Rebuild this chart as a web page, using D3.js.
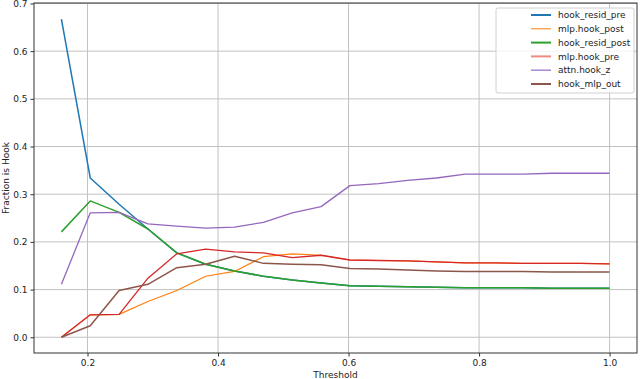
<!DOCTYPE html>
<html>
<head>
<meta charset="utf-8">
<script src="https://cdn.jsdelivr.net/npm/d3@7"></script>
<style>
  body { margin: 0; background: #fff; }
  text { font-family: "DejaVu Sans", sans-serif; fill: #222; }
</style>
</head>
<body>
<div id="chart"></div>
<script>
// thresholds on the x axis
let thresholds = [0.16, 0.2042, 0.2484, 0.2926, 0.3368, 0.3811, 0.4253, 0.4695, 0.5137, 0.5579,
                  0.6021, 0.6463, 0.6905, 0.7347, 0.7789, 0.8232, 0.8674, 0.9116, 0.9558, 1.0];

let hookResidPre  = [0.667, 0.334, 0.279, 0.227, 0.177, 0.153, 0.139, 0.128, 0.120, 0.114,
                     0.108, 0.107, 0.106, 0.105, 0.104, 0.104, 0.104, 0.103, 0.103, 0.103];
let mlpHookPost   = [0.0, 0.047, 0.048, 0.075, 0.098, 0.128, 0.138, 0.169, 0.175, 0.172,
                     0.162, 0.161, 0.160, 0.158, 0.156, 0.156, 0.155, 0.155, 0.155, 0.154];
let hookResidPost = [0.221, 0.286, 0.262, 0.227, 0.177, 0.153, 0.139, 0.128, 0.120, 0.114,
                     0.108, 0.107, 0.106, 0.105, 0.104, 0.104, 0.104, 0.103, 0.103, 0.103];
let mlpHookPre    = [0.0, 0.047, 0.048, 0.124, 0.175, 0.185, 0.179, 0.177, 0.167, 0.172,
                     0.162, 0.161, 0.160, 0.158, 0.156, 0.156, 0.155, 0.155, 0.155, 0.154];
let attnHookZ     = [0.111, 0.261, 0.262, 0.238, 0.233, 0.229, 0.231, 0.241, 0.261, 0.274,
                     0.318, 0.322, 0.329, 0.334, 0.342, 0.342, 0.342, 0.344, 0.344, 0.344];
let hookMlpOut    = [0.0, 0.024, 0.098, 0.111, 0.146, 0.153, 0.170, 0.155, 0.153, 0.152,
                     0.144, 0.143, 0.141, 0.139, 0.138, 0.138, 0.138, 0.137, 0.137, 0.137];

let seriesNames = ["hook_resid_pre", "mlp.hook_post", "hook_resid_post", "mlp.hook_pre", "attn.hook_z", "hook_mlp_out"];
let seriesValues = [hookResidPre, mlpHookPost, hookResidPost, mlpHookPre, attnHookZ, hookMlpOut];
let colors = ["#1f77b4", "#ff7f0e", "#2ca02c", "#d62728", "#9467bd", "#8c564b"];
let widths = [1.5, 1.2, 1.5, 1.3, 1.3, 1.5];
let legendColors = ["#1f77b4", "#ff7f0e", "#2ca02c", "#ee8a80", "#a98bd0", "#8c564b"];
let legendWidths = [2, 1, 2, 2, 1.5, 2];

let xTicks = [0.2, 0.4, 0.6, 0.8, 1.0];
let yTicks = [0.0, 0.1, 0.2, 0.3, 0.4, 0.5, 0.6, 0.7];

let W = 640, H = 379;
let margin = {top: 3, right: 3, bottom: 26, left: 34};

let svg = d3.select("#chart")
  .append("svg")
    .attr("width", W)
    .attr("height", H);

let x = d3.scaleLinear()
  .domain([0.118, 1.042])
  .range([margin.left, W - margin.right]);

let y = d3.scaleLinear()
  .domain([-0.033, 0.701])
  .range([H - margin.bottom, margin.top]);

// grid
svg.append("g")
  .selectAll("line.gx")
  .data(xTicks)
  .join("line")
    .attr("x1", d => x(d)).attr("x2", d => x(d))
    .attr("y1", margin.top).attr("y2", H - margin.bottom)
    .attr("stroke", "#c2c2c2").attr("stroke-width", 1);

svg.append("g")
  .selectAll("line.gy")
  .data(yTicks)
  .join("line")
    .attr("x1", margin.left).attr("x2", W - margin.right)
    .attr("y1", d => y(d)).attr("y2", d => y(d))
    .attr("stroke", "#c2c2c2").attr("stroke-width", 1);

// lines
let line = d3.line()
  .x((d, i) => x(thresholds[i]))
  .y(d => y(d));

seriesValues.forEach(function(vals, k) {
  svg.append("path")
    .datum(vals)
    .attr("fill", "none")
    .attr("stroke", colors[k])
    .attr("stroke-width", widths[k])
    .attr("stroke-linejoin", "round")
    .attr("d", line);
});

// axes
let xAxis = svg.append("g")
  .attr("transform", "translate(0," + (H - margin.bottom) + ")")
  .call(d3.axisBottom(x).tickValues(xTicks).tickFormat(d3.format(".1f")).tickSizeOuter(0).tickSize(3.5).tickPadding(3));

let yAxis = svg.append("g")
  .attr("transform", "translate(" + margin.left + ",0)")
  .call(d3.axisLeft(y).tickValues(yTicks).tickFormat(d3.format(".1f")).tickSizeOuter(0).tickSize(3.5).tickPadding(3));

[xAxis, yAxis].forEach(function(a) {
  a.select(".domain").remove();
  a.selectAll("text").style("font-size", "9px").style("font-family", "DejaVu Sans, sans-serif").attr("fill", "#222");
  a.selectAll("line").attr("stroke", "#333");
});

// frame
svg.append("rect")
  .attr("x", margin.left).attr("y", margin.top)
  .attr("width", W - margin.left - margin.right)
  .attr("height", H - margin.top - margin.bottom)
  .attr("fill", "none")
  .attr("stroke", "#333")
  .attr("stroke-width", 1);

// axis titles
svg.append("text")
  .attr("x", (margin.left + W - margin.right) / 2)
  .attr("y", H - 1.5)
  .attr("text-anchor", "middle")
  .style("font-size", "9px")
  .text("Threshold");

svg.append("text")
  .attr("transform", "translate(9," + ((margin.top + H - margin.bottom) / 2) + ") rotate(-90)")
  .attr("text-anchor", "middle")
  .style("font-size", "9px")
  .text("Fraction is Hook");

// legend
let lg = svg.append("g").attr("transform", "translate(496,8)");
lg.append("rect")
  .attr("width", 138).attr("height", 85)
  .attr("rx", 2)
  .attr("fill", "#fff").attr("fill-opacity", 0.8)
  .attr("stroke", "#d0d0d0");

seriesNames.forEach(function(name, k) {
  let yy = 7 + k * 13.8;
  lg.append("line")
    .attr("x1", 35).attr("x2", 55)
    .attr("y1", yy).attr("y2", yy)
    .attr("stroke", legendColors[k])
    .attr("stroke-width", legendWidths[k]);
  lg.append("text")
    .attr("x", 62).attr("y", yy)
    .attr("dy", "0.35em")
    .style("font-size", "9px")
    .text(name);
});
</script>
</body>
</html>
